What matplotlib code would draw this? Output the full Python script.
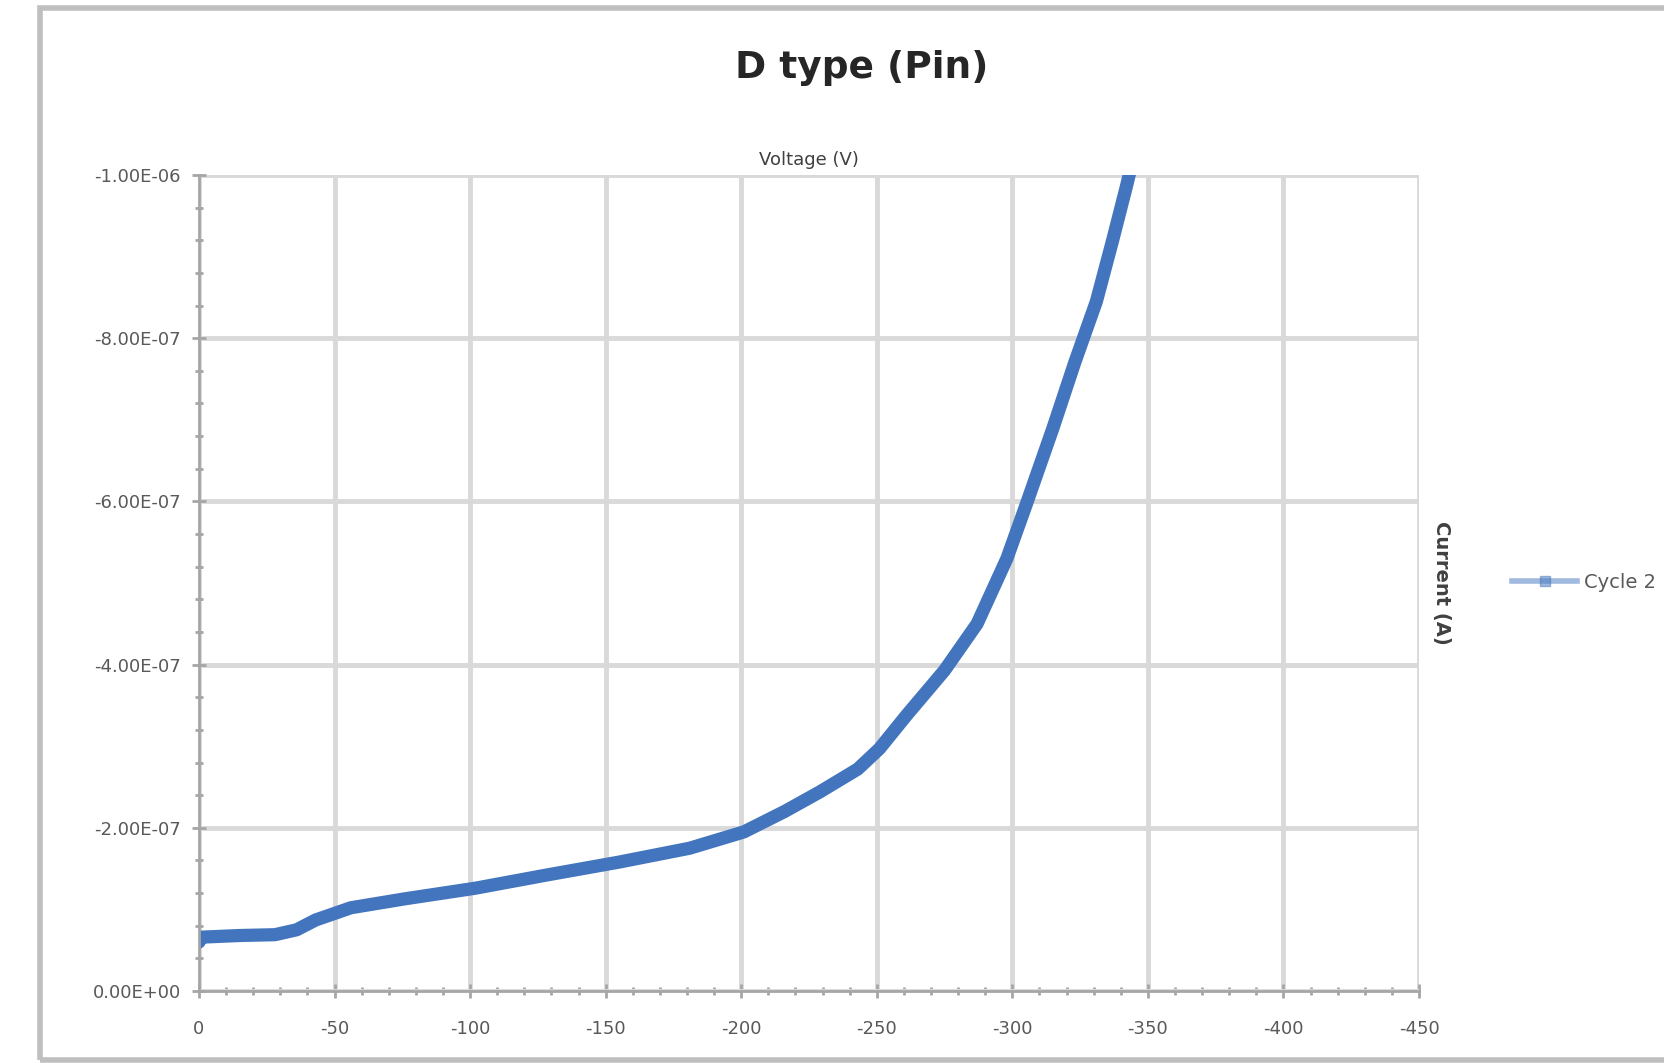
import matplotlib.pyplot as plt
from matplotlib.ticker import MultipleLocator, FuncFormatter
from matplotlib.patches import Rectangle

# data
voltage = [0, -1, -15, -28, -36, -43, -56, -76, -102, -128, -155, -181, -201,
           -216, -229, -243, -251, -261, -275, -287, -298, -305, -315,
           -323, -331, -337, -342, -346]
current = [-6.0e-08, -6.6e-08, -6.8e-08, -6.9e-08, -7.5e-08, -8.7e-08, -1.02e-07, -1.13e-07,
           -1.26e-07, -1.42e-07, -1.58e-07, -1.75e-07, -1.95e-07,
           -2.20e-07, -2.44e-07, -2.72e-07, -2.97e-07, -3.38e-07, -3.93e-07,
           -4.50e-07, -5.30e-07, -5.95e-07, -6.90e-07,
           -7.70e-07, -8.45e-07, -9.20e-07, -9.85e-07, -1.04e-06]

x_ticks = [0, -50, -100, -150, -200, -250, -300, -350, -400, -450]
y_ticks = [0, -2e-07, -4e-07, -6e-07, -8e-07, -1e-06]

blue = '#4275BE'
grid_c = '#D9D9D9'
axis_c = '#A6A6A6'

fig = plt.figure(figsize=(16.65, 10.63), dpi=100)

# outer chart border (cropped screenshot)
fig.add_artist(Rectangle((40/1665, 3/1063), 1.2, 1052/1063, transform=fig.transFigure,
                         fill=False, edgecolor='#BFBFBF', linewidth=4))

ax = fig.add_axes([199/1665, 72/1063, (1419-199)/1665, (991-175)/1063])
ax.plot(voltage, current, color=blue, linewidth=9.5, solid_capstyle='round',
        solid_joinstyle='round', label='Cycle 2')
ax.set_xlim(0, -450)
ax.set_ylim(0, -1e-06)

ax.set_xticks(x_ticks)
ax.set_yticks(y_ticks)
ax.xaxis.set_minor_locator(MultipleLocator(10))
ax.yaxis.set_minor_locator(MultipleLocator(4e-08))
ax.xaxis.set_major_formatter(FuncFormatter(lambda v, p: '%d' % v))
ax.yaxis.set_major_formatter(FuncFormatter(lambda v, p: '%.2E' % v if v != 0 else '0.00E+00'))

ax.grid(True, which='major', color=grid_c, linewidth=3.5)
ax.set_axisbelow(True)
for s in ['top', 'right']:
    ax.spines[s].set_visible(False)
for s in ['left', 'bottom']:
    ax.spines[s].set_color(axis_c)
    ax.spines[s].set_linewidth(2)
ax.tick_params(which='major', direction='inout', length=10, width=2, color=axis_c,
               labelsize=13, labelcolor='#595959')
ax.tick_params(axis='x', which='major', pad=16)
ax.tick_params(axis='y', which='major', pad=8)
ax.tick_params(which='minor', direction='inout', length=6, width=2, color=axis_c)

ax.set_title('D type (Pin)', fontsize=27, fontweight='bold', color='#262626', pad=70,
             x=(862-199)/(1419-199))
ax.set_xlabel('Voltage (V)', fontsize=13, color='#404040')
ax.xaxis.set_label_coords(0.5, 1.03)
ax.set_ylabel('Current (A)', fontsize=14, color='#404040', rotation=270, fontweight='bold')
ax.yaxis.set_label_coords(1.011, 0.5)

handle = plt.Line2D([], [], color=blue, linewidth=4, alpha=0.5, marker='s',
                    markersize=7, markerfacecolor=blue, markeredgecolor=blue)
fig.legend([handle], ['Cycle 2'], loc='center left', bbox_to_anchor=(1495/1665, 1-582/1063),
           frameon=False, fontsize=14, labelcolor='#595959', handlelength=3.3,
           handletextpad=0.4)

fig.savefig('out.png', dpi=100)
